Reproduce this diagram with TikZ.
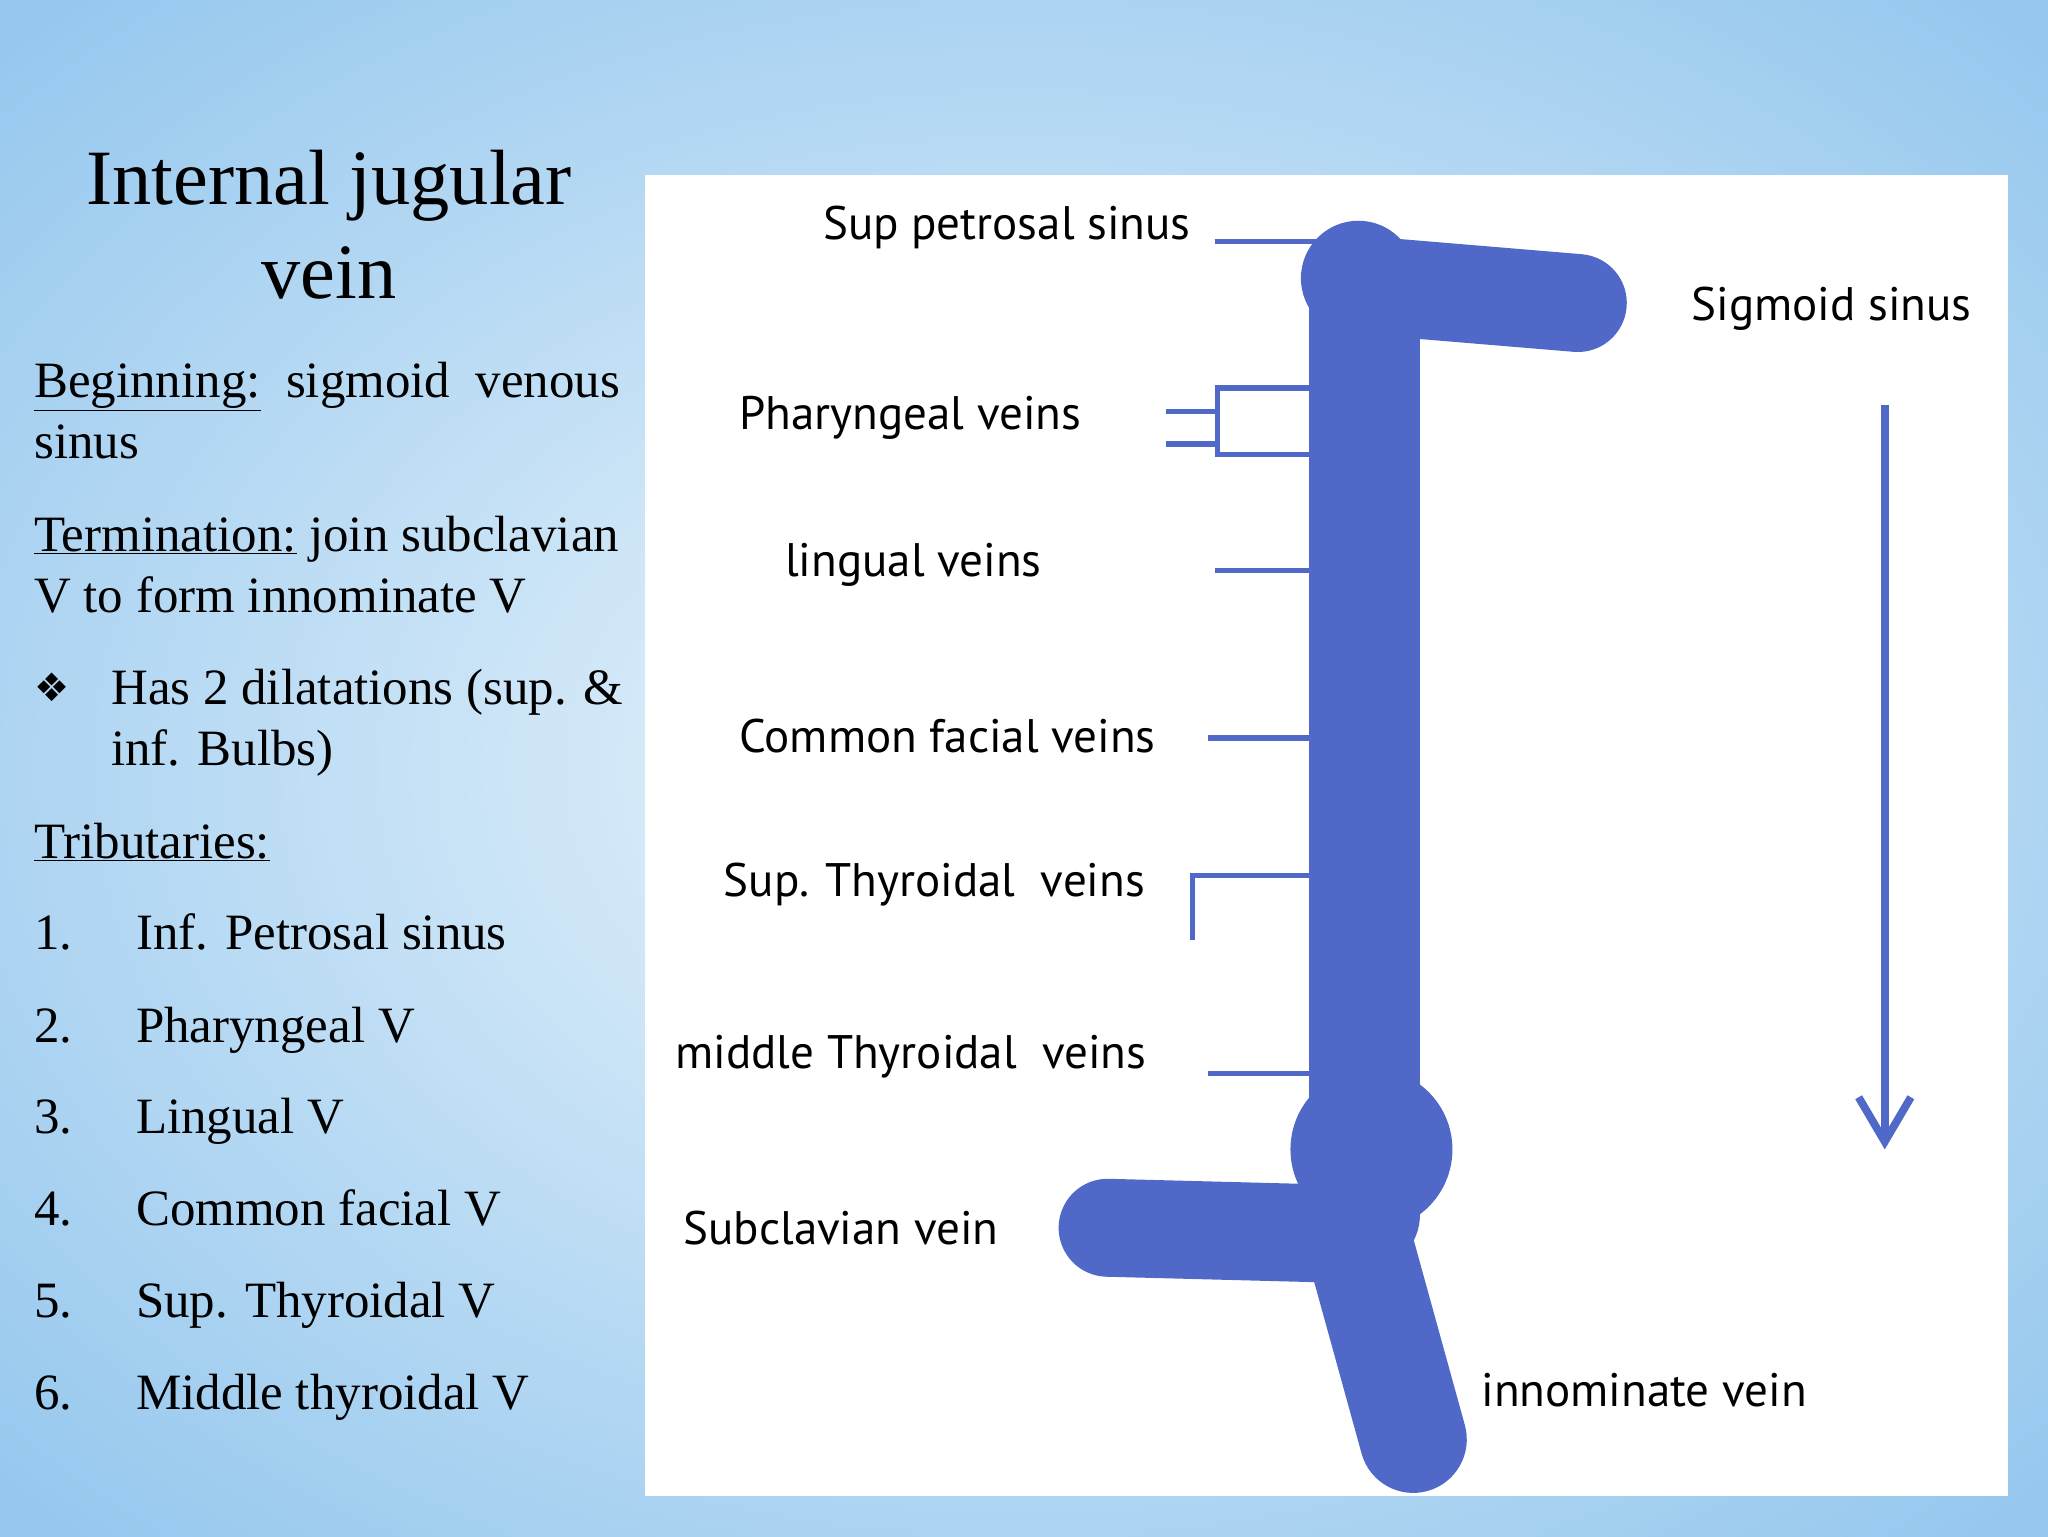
\documentclass[tikz,border=0pt]{standalone}
\usepackage{fontspec}
\setmainfont{Liberation Serif}
\newfontfamily\lab{PT Sans}
\newfontfamily\sym{DejaVu Sans}
\usetikzlibrary{arrows.meta}
\definecolor{vein}{RGB}{80,104,200}
\definecolor{bgblue}{RGB}{150,200,238}
\definecolor{bglight}{RGB}{235,245,252}
\tikzset{x=1pt,y=-1pt,
 trib/.style={draw=vein,line width=4pt},
 vessel/.style={draw=vein,line cap=round},
 lbl/.style={font=\lab\fontsize{36}{42}\selectfont,anchor=base west,inner sep=0},
 body/.style={font=\fontsize{39}{46}\selectfont,anchor=base west,inner sep=0}}
\begin{document}
\begin{tikzpicture}
\useasboundingbox (0,0) rectangle (1568,1176);
\fill[bgblue] (0,0) rectangle (1568,1176);
\shade[inner color=bglight,outer color=bgblue] (-300,-200) rectangle (1868,1376);
\fill[white] (494,134) rectangle (1537,1145);
% title
\node[font=\fontsize{60}{72}\selectfont,align=center] (title) at (252,172) {Internal jugular\\vein};
\node[body] (b1) at (26,304) {\underline{Beginning:}\ \ sigmoid\ \ venous};
\node[body] (b2) at (26,351) {sinus};
\node[body] (t1) at (26,422) {\underline{Termination:} join subclavian};
\node[body] (t2) at (26,469) {V to form innominate V};
\node[body] (h0) at (26,537) {\sym\fontsize{30}{36}\selectfont ❖};
\node[body] (h1) at (85,539) {Has 2 dilatations (sup. \&};
\node[body] (h2) at (85,586) {inf. Bulbs)};
\node[body] (tr) at (26,657) {\underline{Tributaries:}};
\foreach \n/\t/\y in {1/Inf. Petrosal sinus/727,2/Pharyngeal V/798,3/Lingual V/868,4/Common facial V/938,5/Sup. Thyroidal V/1009,6/Middle thyroidal V/1079}{
 \node[body] (n\n) at (26,\y) {\n.};
 \node[body] (l\n) at (104,\y) {\t};}
% vessels
\draw[vessel,line width=85pt] (1045,225) -- (1045,930);
\draw[vessel,line width=75pt] (1040,218) -- (1208,232);
\fill[vein] (1040,213) circle (44);
\fill[vein] (1050,880) circle (62);
\draw[vessel,line width=75pt] (848,940) -- (1040,945);
\draw[vessel,line width=82pt] (1040,950) -- (1082,1102);
% tributaries
\coordinate (sp) at (930,185); \draw[trib] (sp) -- (1012,185);
\draw[trib] (1003,297) -- (932,297) -- (932,348) -- (1003,348);
\draw[trib] (893,315) -- (932,315); \draw[trib] (893,340) -- (932,340);
\draw[trib] (930,437) -- (1003,437);
\draw[trib] (925,565) -- (1003,565);
\draw[trib] (913,720) -- (913,670) -- (1003,670);
\draw[trib] (925,822) -- (1003,822);
% arrow
\coordinate (a1) at (1443,310); \coordinate (a2) at (1443,880);
\draw[vein,line width=6pt,-{Straight Barb[length=34pt,width=40pt,line width=6pt]}] (a1) -- (a2);
% labels
\node[lbl] at (630,183) {Sup petrosal sinus};
\node[lbl] at (1295,245) {Sigmoid sinus};
\node[lbl] at (566,329) {Pharyngeal veins};
\node[lbl] at (601,441) {lingual veins};
\node[lbl] at (566,576) {Common facial veins};
\node[lbl] at (554,686) {Sup. Thyroidal\ \ veins};
\node[lbl] at (517,818) {middle Thyroidal\ \ veins};
\node[lbl] at (523,953) {Subclavian vein};
\node[lbl] at (1134,1077) {innominate vein};
\end{tikzpicture}
\end{document}
